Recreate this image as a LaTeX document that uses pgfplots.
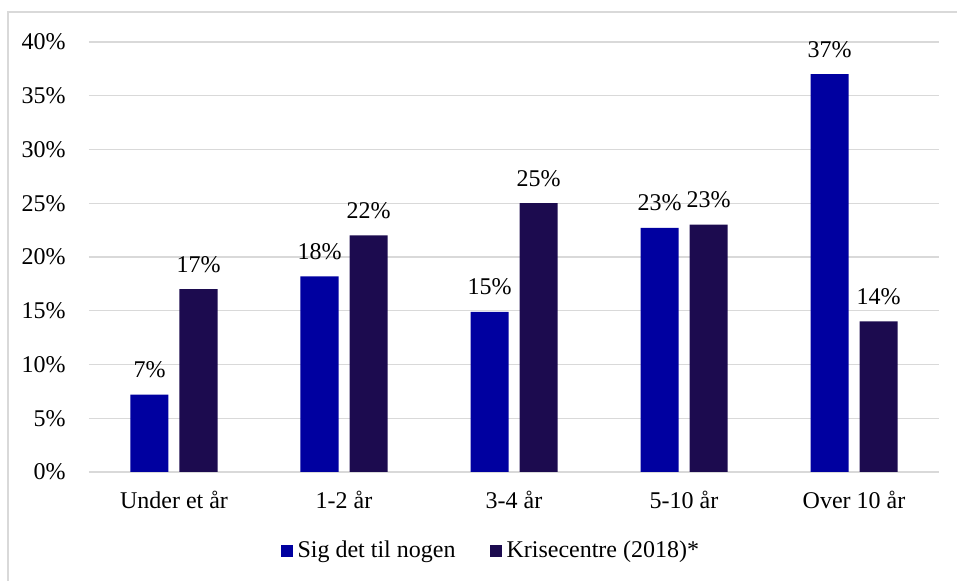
\documentclass[border=0pt]{standalone}
\usepackage{pgfplots}
\pgfplotsset{compat=1.18}
\usepackage{fontspec}
\setmainfont{Liberation Serif}
\definecolor{cBlue}{HTML}{0000A0}
\definecolor{cDark}{HTML}{1C0B4F}
\definecolor{cGrid}{HTML}{D9D9D9}
\begin{document}
\fontsize{12}{14}\selectfont
\begin{tikzpicture}
\useasboundingbox (0,0) rectangle (478.5pt,290.5pt);
\draw[cGrid, line width=0.7pt] (4pt,-2pt) -- (4pt,284.5pt) -- (482pt,284.5pt);
\begin{axis}[
  at={(44.5pt,54.5pt)}, anchor=south west,
  scale only axis, width=425pt, height=215pt,
  ybar=5.5pt, bar width=19pt,
  xmin=-0.5, xmax=4.5, ymin=0, ymax=40,
  xtick={0,1,2,3,4},
  xticklabels={Under et år,1-2 år,3-4 år,5-10 år,Over 10 år},
  ytick={0,5,10,15,20,25,30,35,40},
  yticklabels={0\%,5\%,10\%,15\%,20\%,25\%,30\%,35\%,40\%},
  axis line style={draw=none}, major tick length=0pt,
  ymajorgrids, grid style={cGrid, line width=0.7pt},
  xticklabel style={yshift=-5.5pt},
  yticklabel style={xshift=-7.5pt},
  nodes near coords, point meta=explicit symbolic,
  nodes near coords style={anchor=base, yshift=8.5pt, text=black, inner sep=0pt},
  legend style={draw=none, fill=none, at={(0.4745,-0.1837)}, anchor=center,
    legend columns=2, nodes={inner xsep=2.5pt, inner ysep=1pt},
    /tikz/every even column/.append style={column sep=14.5pt}},
  legend image code/.code={\fill[#1,draw=none] (0pt,-3pt) rectangle (6pt,3pt);},
]
\addplot[fill=cBlue, draw=none] coordinates {
  (0,7.2) [7\%]
  (1,18.2) [18\%]
  (2,14.9) [15\%]
  (3,22.7) [23\%]
  (4,37.0) [37\%]
};
\addlegendentry{Sig det til nogen}
\addplot[fill=cDark, draw=none] coordinates {
  (0,17.0) [17\%]
  (1,22.0) [22\%]
  (2,25.0) [25\%]
  (3,23.0) [23\%]
  (4,14.0) [14\%]
};
\addlegendentry{Krisecentre (2018)*}
\end{axis}
\end{tikzpicture}
\end{document}
